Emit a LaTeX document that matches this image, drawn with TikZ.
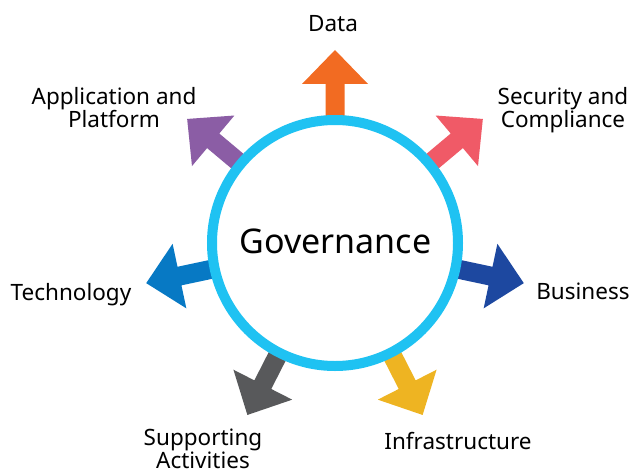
\documentclass[tikz,border=0pt]{standalone}
\usepackage{fontspec}
\setmainfont{Noto Sans}
\usetikzlibrary{positioning}
\definecolor{ringblue}{HTML}{1FC2F2}
\definecolor{dataorange}{HTML}{F26B22}
\definecolor{secred}{HTML}{F05A67}
\definecolor{busblue}{HTML}{1D48A0}
\definecolor{infyellow}{HTML}{EEB422}
\definecolor{supgray}{HTML}{58595B}
\definecolor{techblue}{HTML}{0779C4}
\definecolor{apppurple}{HTML}{8B5DA5}
% block arrow pointing out of the ring: #1 angle, #2 colour
\newcommand{\govarrow}[2]{%
  \fill[#2,rotate=#1] (112,-9.5) -- (159,-9.5) -- (159,-33) -- (193,0)
    -- (159,33) -- (159,9.5) -- (112,9.5) -- cycle;}

\begin{document}
\begin{tikzpicture}[x=1pt,y=1pt,
  lbl/.style={font=\fontsize{22.5}{23}\selectfont,align=center,anchor=base,inner sep=1pt}]
\useasboundingbox (-335,-231) rectangle (301,243);
%---------------- arrows (behind the ring)
\govarrow{90}{dataorange}    % data
\govarrow{40}{secred}        % security and compliance
\govarrow{-12}{busblue}      % business
\govarrow{-63}{infyellow}    % infrastructure
\govarrow{-117}{supgray}     % supporting activities
\govarrow{192}{techblue}     % technology
\govarrow{140}{apppurple}    % application and platform
%---------------- ring
\draw[ringblue,line width=10pt,fill=white] (0,0) circle (123);
\node[font=\fontsize{34}{36}\selectfont,anchor=base] (gov) at (0.5,-10) {Governance};
%---------------- labels (base = last line)
\node[lbl] (data) at (-2,211) {Data};
\node[lbl] (sec) at (228,115) {Security and\\Compliance};
\node[lbl] (bus) at (248,-56) {Business};
\node[lbl] (infra) at (123,-206) {Infrastructure};
\node[lbl] (supp) at (-132,-225) {Supporting\\Activities};
\node[lbl] (tech) at (-264,-57) {Technology};
\node[lbl] (app) at (-221,116) {Application and\\Platform};
\end{tikzpicture}
\end{document}
